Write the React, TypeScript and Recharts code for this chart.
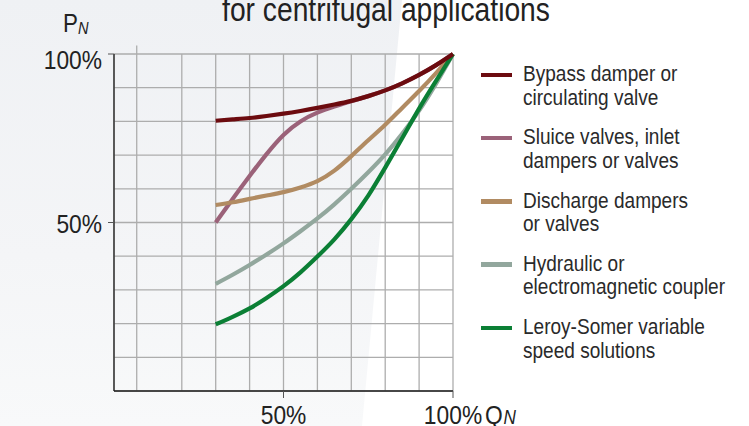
import { CartesianGrid, Line, LineChart, ReferenceLine, XAxis, YAxis } from "recharts";

const FONT = "'Liberation Sans', Arial, sans-serif";
const NARROW = 0.86; // squeeze Liberation Sans to look like a condensed face

// flow Q (% of nominal)
const flow = [30, 35, 40, 45, 50, 55, 60, 65, 70, 75, 80, 85, 90, 95, 100];

// power P (% of nominal) per control method
const bypass = [80.2, 80.6, 81, 81.6, 82.3, 83.1, 84, 85, 86.1, 87.5, 89.2, 91.3, 93.8, 96.7, 100];
const sluice = [50, 57, 63.8, 70.3, 76, 80, 82.6, 84.4, 86, 87.5, 89.2, 91.3, 93.8, 96.7, 100];
const discharge = [55.2, 56, 57, 58, 59, 60.4, 62.3, 65.4, 69.7, 74.4, 79, 84, 89, 94.3, 100];
const hydraulic = [31.8, 34.5, 37.4, 40.5, 43.8, 47.4, 51.2, 55.4, 60, 64.9, 70.2, 76.3, 83.2, 91.2, 100];
const leroy = [19.8, 22, 24.5, 27.6, 31.1, 35.2, 39.9, 45, 51, 58, 66.3, 75, 83.8, 92, 100];

const xTicks = [6.7, 20, 30, 40, 50, 60, 70, 80, 90, 100];
const yTicks = [0, 10, 20, 30, 40, 50, 60, 70, 80, 90, 100];
const xLabels = [50, 100];
const yLabels = [50, 100];

const rows = flow.map((q, i) => ({
  q,
  bypass: bypass[i],
  sluice: sluice[i],
  discharge: discharge[i],
  hydraulic: hydraulic[i],
  leroy: leroy[i],
}));

const series = [
  { key: "bypass", color: "#6c0b0f", lines: ["Bypass damper or", "circulating valve"] },
  { key: "sluice", color: "#9b6279", lines: ["Sluice valves, inlet", "dampers or valves"] },
  { key: "discharge", color: "#b18b62", lines: ["Discharge dampers", "or valves"] },
  { key: "hydraulic", color: "#92a79d", lines: ["Hydraulic or", "electromagnetic coupler"] },
  { key: "leroy", color: "#0b7f35", lines: ["Leroy-Somer variable", "speed solutions"] },
];

// draw order: bypass ends up on top
const drawOrder = ["sluice", "discharge", "hydraulic", "leroy", "bypass"];

function XTick(props: any) {
  const { x, y, payload } = props;
  const v = payload.value;
  if (!xLabels.includes(v)) return null;
  return (
    <g>
      <line x1={x} x2={x} y1={y - 7} y2={y} stroke="#555" strokeWidth={1} />
      <text
        transform={`translate(${x},423.5) scale(${NARROW},1)`}
        textAnchor="middle"
        fontFamily={FONT}
        fontSize={26.5}
        fill="#222"
      >
        {v}%
      </text>
      {v === 100 && (
        <text transform={`translate(${x + 32},423.5) scale(${NARROW},1)`} fontFamily={FONT} fontSize={26.5} fill="#222">
          Q
          <tspan fontSize={20} fontStyle="italic" dx={1} dy={0.5}>N</tspan>
        </text>
      )}
    </g>
  );
}

function YTick(props: any) {
  const { x, y, payload } = props;
  const v = payload.value;
  if (!yLabels.includes(v)) return null;
  const by = v === 100 ? y + 14.5 : y + 10;
  return (
    <g>
      <line x1={x} x2={x + 6} y1={y} y2={y} stroke="#555" strokeWidth={1} />
      <text
        transform={`translate(${x - 6},${by}) scale(${NARROW},1)`}
        textAnchor="end"
        fontFamily={FONT}
        fontSize={26.5}
        fill="#222"
      >
        {v}%
      </text>
    </g>
  );
}

export default function App() {
  return (
    <div style={{ position: "absolute", left: 0, top: 0, width: 749, height: 426, overflow: "hidden", background: "#fff" }}>
      <div
        style={{
          position: "absolute",
          inset: 0,
          background: "linear-gradient(180deg, #eff1f4 0%, #f4f5f7 60%, #f8f9fa 100%)",
          clipPath: "polygon(0 0, 402px 0, 362px 426px, 0 426px)",
        }}
      />
      <div
        style={{
          position: "absolute",
          left: 86,
          top: -8,
          width: 600,
          textAlign: "center",
          fontFamily: FONT,
          fontSize: 34,
          lineHeight: "34px",
          color: "#222",
          whiteSpace: "nowrap",
          transform: "scaleX(0.83)",
          transformOrigin: "center",
        }}
      >
        for centrifugal applications
      </div>
      <div
        style={{
          position: "absolute",
          left: 63,
          top: 10,
          fontFamily: FONT,
          fontSize: 26,
          lineHeight: "26px",
          color: "#222",
          whiteSpace: "nowrap",
          transform: `scaleX(${NARROW})`,
          transformOrigin: "left",
        }}
      >
        P<span style={{ fontSize: 17, fontStyle: "italic", position: "relative", top: 2 }}>N</span>
      </div>
      <div style={{ position: "absolute", left: 0, top: 0 }}>
        <LineChart width={749} height={426} data={rows} margin={{ top: 54, right: 296, bottom: 0, left: 0 }}>
          <CartesianGrid stroke="#adadad" strokeWidth={1.3} />
          <XAxis
            type="number"
            dataKey="q"
            domain={[0, 100]}
            ticks={xTicks}
            interval={0}
            height={35}
            tickLine={false}
            tickSize={7}
            tickMargin={0}
            tick={<XTick />}
            axisLine={{ stroke: "#1e1e1e", strokeWidth: 1.3 }}
          />
          <YAxis
            type="number"
            domain={[0, 100]}
            ticks={yTicks}
            interval={0}
            width={114}
            tickLine={false}
            tickSize={6}
            tickMargin={0}
            tick={<YTick />}
            axisLine={{ stroke: "#1e1e1e", strokeWidth: 1.3 }}
          />
          <ReferenceLine
            segment={[{ x: 6.7, y: 100 }, { x: 6.7, y: 102.5 }]}
            stroke="#adadad"
            strokeWidth={1.3}
            ifOverflow="visible"
          />
          {drawOrder.map((k) => {
            const s = series.find((d) => d.key === k)!;
            return (
              <Line
                key={k}
                type="natural"
                dataKey={k}
                stroke={s.color}
                strokeWidth={4.2}
                dot={false}
                activeDot={false}
                isAnimationActive={false}
              />
            );
          })}
        </LineChart>
      </div>
      <div style={{ position: "absolute", left: 481, top: 62, fontFamily: FONT, fontSize: 22, lineHeight: "23.5px", color: "#2a2a2a" }}>
        {series.map((s) => (
          <div key={s.key} style={{ position: "relative", height: 47, marginBottom: 16.3 }}>
            <div style={{ position: "absolute", left: 0, top: 10.5, width: 31, height: 4.5, background: s.color }} />
            <div
              style={{
                position: "absolute",
                left: 42,
                top: 0,
                whiteSpace: "nowrap",
                transform: "scaleX(0.865)",
                transformOrigin: "left",
              }}
            >
              {s.lines.map((l) => (
                <div key={l}>{l}</div>
              ))}
            </div>
          </div>
        ))}
      </div>
    </div>
  );
}
